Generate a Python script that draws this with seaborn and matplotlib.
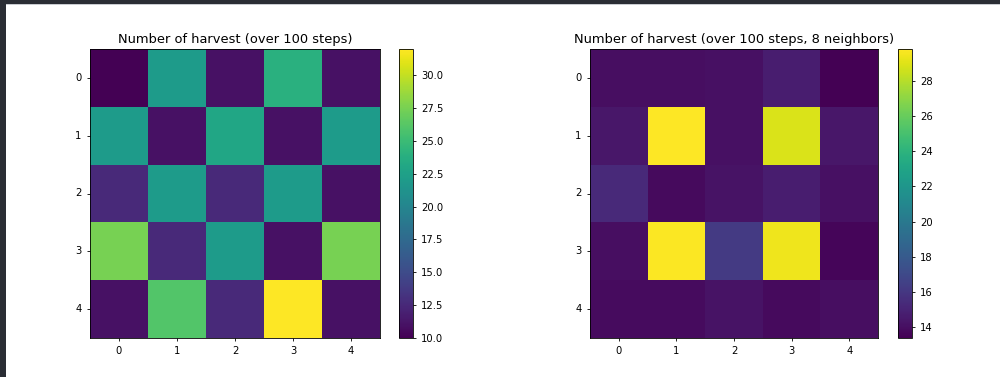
import numpy as np
import pandas as pd
import matplotlib
matplotlib.use("Agg")
import matplotlib.pyplot as plt
from matplotlib.patches import Rectangle
import seaborn as sns

# Harvest counts on a 5x5 grid, over 100 steps
harvest_4 = [
    [10, 22, 11, 24, 11],
    [22, 11, 23, 11, 22],
    [12.5, 22, 12.5, 22, 11],
    [27.5, 12.5, 22, 11, 27.5],
    [11, 26, 12.5, 32, 11],
]

# Same grid with 8-neighbour interaction
harvest_8 = [
    [14.0, 14.0, 14.1, 14.7, 13.4],
    [14.4, 29.8, 14.1, 28.9, 14.4],
    [15.3, 13.8, 14.2, 14.7, 14.1],
    [14.0, 29.7, 16.2, 29.4, 13.6],
    [13.9, 13.9, 14.2, 13.8, 14.0],
]

row_labels = ["0", "1", "2", "3", "4"]
col_labels = ["0", "1", "2", "3", "4"]

titles = [
    "Number of harvest (over 100 steps)",
    "Number of harvest (over 100 steps, 8 neighbors)",
]

plt.rcParams.update({
    "font.family": ["DejaVu Sans"],
    "xtick.labelsize": 7.2,
    "ytick.labelsize": 7.2,
    "xtick.major.size": 2.5,
    "ytick.major.size": 2.5,
    "xtick.major.width": 0.6,
    "ytick.major.width": 0.6,
    "axes.linewidth": 0.6,
})

W, H = 1000, 377
fig = plt.figure(figsize=(W / 100, H / 100), dpi=100)
fig.patch.set_facecolor("white")


def frac(x0, y0, x1, y1):
    return [x0 / W, 1 - y1 / H, (x1 - x0) / W, (y1 - y0) / H]


boxes = [
    (frac(90, 49, 380, 338), frac(399, 49, 413, 338)),
    (frac(590, 49, 878, 338), frac(898, 49, 912, 338)),
]

for data, title, (abox, cbox) in zip([harvest_4, harvest_8], titles, boxes):
    ax = fig.add_axes(abox)
    cax = fig.add_axes(cbox)
    df = pd.DataFrame(np.array(data, dtype=float), index=row_labels, columns=col_labels)
    sns.heatmap(df, ax=ax, cbar_ax=cax, cmap="viridis", linewidths=0)
    ax.set_position(abox)
    cax.set_position(cbox)
    for sp in ax.spines.values():
        sp.set_visible(True)
        sp.set_linewidth(0.6)
        sp.set_color("black")
    ax.tick_params(axis="both", length=2.5, width=0.6, colors="black", labelsize=7.2)
    ax.set_yticklabels(row_labels, rotation=0)
    ax.set_xticklabels(col_labels, rotation=0)
    ax.set_title(title, fontsize=9.4, pad=4)
    cb = ax.collections[0].colorbar
    cb.outline.set_visible(True)
    cb.outline.set_linewidth(0.6)
    cb.outline.set_edgecolor("black")
    cax.tick_params(length=2.5, width=0.6, labelsize=7.2)

# window frame strips around the figure
fig.patches.append(Rectangle((0, 0), 6 / W, 1, transform=fig.transFigure,
                             facecolor="#2a2d34", edgecolor="none", zorder=10))
fig.patches.append(Rectangle((0, 1 - 4 / H), 1, 4 / H, transform=fig.transFigure,
                             facecolor="#2a2d34", edgecolor="none", zorder=10))
fig.patches.append(Rectangle((6 / W, 1 - 5 / H), 1, 1 / H, transform=fig.transFigure,
                             facecolor="#c9ccd1", edgecolor="none", zorder=10))

fig.savefig("out.png", dpi=100)
